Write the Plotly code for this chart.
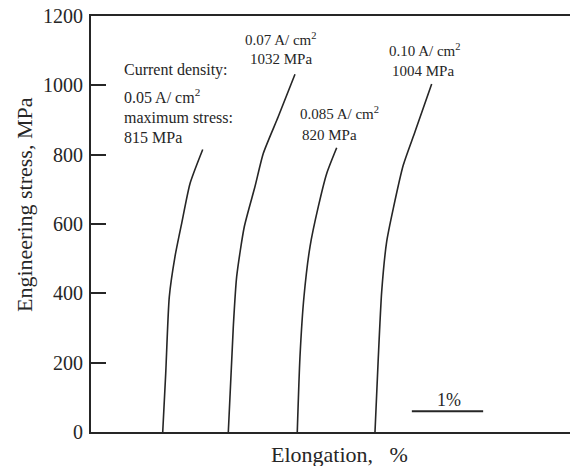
import plotly.graph_objects as go

# ---- data (elongation in %, arbitrary origin; stress in MPa) ----
c005_x = [1.006, 1.048, 1.098, 1.178, 1.272, 1.389, 1.567]
c005_y = [0, 169, 390, 506, 602, 717, 815]

c007_x = [1.926, 1.996, 2.043, 2.150, 2.300, 2.417, 2.627, 2.861]
c007_y = [0, 304, 448, 592, 708, 804, 910, 1032]

c0085_x = [2.893, 2.931, 2.987, 3.072, 3.188, 3.306, 3.446]
c0085_y = [0, 217, 390, 535, 650, 746, 820]

c010_x = [3.983, 4.029, 4.077, 4.147, 4.240, 4.380, 4.544, 4.778]
c010_y = [0, 213, 405, 549, 645, 770, 866, 1004]

scale_bar_x = [4.5, 5.5]
scale_bar_y = [60, 60]
scale_bar_label = "1%"

y_ticks = [0, 200, 400, 600, 800, 1000, 1200]

W, H = 570, 466
ML, MR, MT, MB = 91, 0, 16, 34
PW, PH = W - ML - MR, H - MT - MB
X_MAX = PW / 71.3

FONT = "Liberation Serif, Times New Roman, serif"
INK = "#262626"


def px(x):
    return (x - ML) / PW


def py(y):
    return (H - MB - y) / PH


fig = go.Figure()
for xs, ys in [(c005_x, c005_y), (c007_x, c007_y), (c0085_x, c0085_y), (c010_x, c010_y)]:
    fig.add_trace(go.Scatter(x=xs, y=ys, mode="lines",
                             line=dict(color=INK, width=1.6, shape="spline", smoothing=0.6),
                             showlegend=False, hoverinfo="skip"))
fig.add_trace(go.Scatter(x=scale_bar_x, y=scale_bar_y, mode="lines",
                         line=dict(color=INK, width=2), showlegend=False, hoverinfo="skip"))

ann = []


def add(text, x, y, size=15, xanchor="center"):
    ann.append(dict(text=text, x=px(x), y=py(y), xref="paper", yref="paper",
                    xanchor=xanchor, yanchor="middle", showarrow=False,
                    font=dict(family=FONT, size=size, color=INK)))


add("Current density:", 121.5, 70, 16, "left")
add("0.05 A/ cm<sup>2</sup>", 121.5, 96, 16, "left")
add("maximum stress:", 121.5, 117, 16, "left")
add("815 MPa", 121.5, 137, 16, "left")

add("0.07 A/ cm<sup>2</sup>", 281, 39)
add("1032 MPa", 281, 59)
add("0.085 A/ cm<sup>2</sup>", 339, 113)
add("820 MPa", 329, 135)
add("0.10 A/ cm<sup>2</sup>", 425, 50)
add("1004 MPa", 423, 71)

add(scale_bar_label, 449, 400, 18)

# axis titles
ann.append(dict(text="Elongation,\u00a0\u00a0\u00a0%", x=px(269), y=py(455), xref="paper", yref="paper",
                xanchor="left", yanchor="middle", showarrow=False,
                font=dict(family=FONT, size=22, color=INK)))
ann.append(dict(text="Engineering stress, MPa", x=px(24), y=py(205), xref="paper", yref="paper",
                xanchor="center", yanchor="middle", showarrow=False, textangle=-90,
                font=dict(family=FONT, size=22, color=INK)))

fig.update_layout(
    width=W, height=H,
    margin=dict(l=ML, r=MR, t=MT, b=MB),
    paper_bgcolor="white", plot_bgcolor="white",
    annotations=ann,
    xaxis=dict(range=[0, X_MAX], showgrid=False, zeroline=False, showticklabels=False,
               ticks="", showline=True, linecolor=INK, linewidth=2, mirror=True),
    yaxis=dict(range=[0, 1200], tickvals=y_ticks, showgrid=False, zeroline=False,
               ticks="inside", ticklen=15, tickwidth=2, tickcolor=INK,
               showline=True, linecolor=INK, linewidth=2, mirror=False,
               ticklabelstandoff=2,
               tickfont=dict(family=FONT, size=20, color=INK)),
)

fig.write_html("out.html")
